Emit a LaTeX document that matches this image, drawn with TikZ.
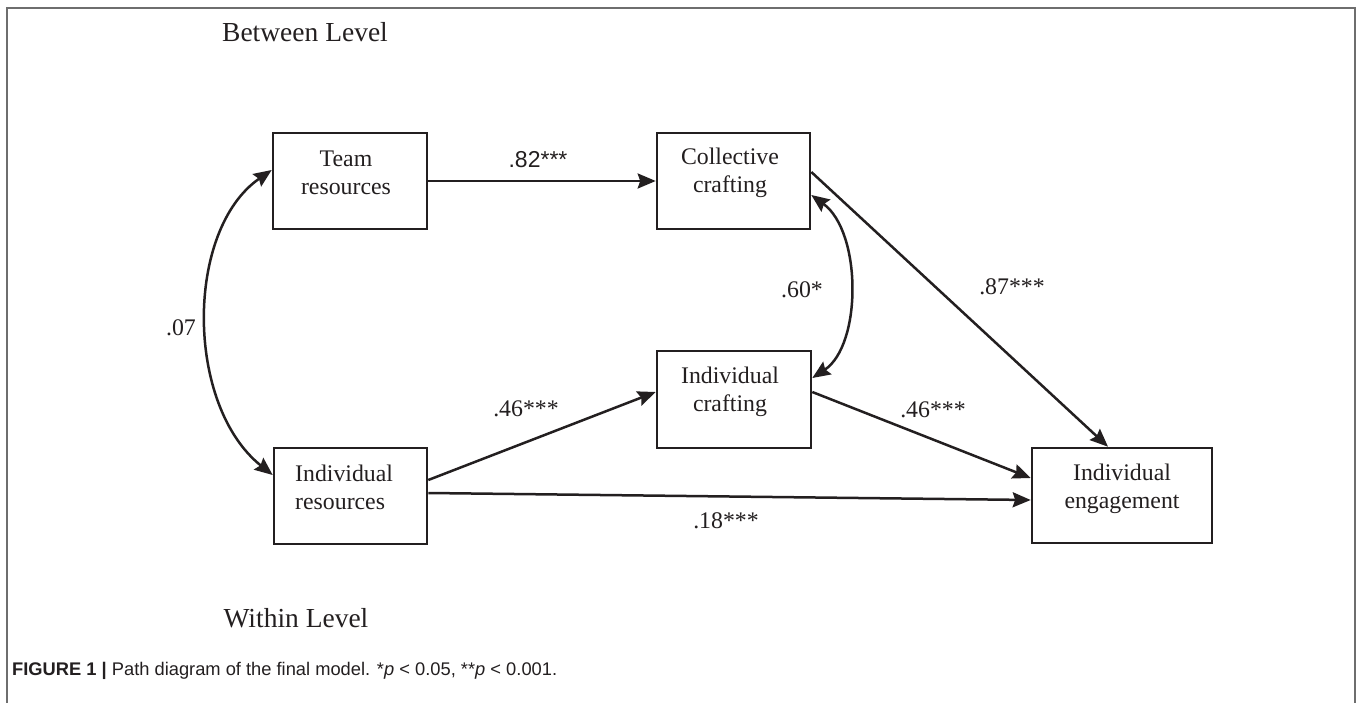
\documentclass[tikz,border=0pt]{standalone}
\usepackage{fontspec}
\setmainfont{Liberation Serif}
\newfontfamily\capfont{Liberation Sans}
\usetikzlibrary{arrows.meta,calc}
\definecolor{ink}{HTML}{231F20}
\definecolor{framegray}{HTML}{6E6E6E}
\begin{document}
\begin{tikzpicture}[x=1pt,y=-1pt,
  box/.style={draw=ink, line width=2.6pt, inner sep=0pt},
  boxtext/.style={text=ink, font=\fontsize{23.8}{28}\selectfont, align=center, inner sep=0pt},
  lvl/.style={text=ink, font=\fontsize{27.5}{30}\selectfont, inner sep=0pt},
  lab/.style={text=ink, font=\fontsize{23.8}{28}\selectfont, inner sep=0pt},
  tip/.style={Stealth[length=18pt,width=15pt,inset=2.5pt]},
  arr/.style={draw=ink, line width=2.5pt, -{Stealth[length=18pt,width=15pt,inset=2.5pt]}},
  darr/.style={draw=ink, line width=2.5pt, {Stealth[length=18pt,width=15pt,inset=2.5pt]}-{Stealth[length=18pt,width=15pt,inset=2.5pt]}},
]
\useasboundingbox (0,0) rectangle (1360,703);
\fill[white] (0,0) rectangle (1360,703);
% frame
\draw[framegray, line width=2pt] (7,703) -- (7,8) -- (1355,8) -- (1355,703);

% level labels
\node[lvl] (between) at (305,32) {Between Level};
\node[lvl] (within) at (296,618) {Within Level};

% boxes
\node[box, minimum width=154, minimum height=96] (tr) at (350,181) {};
\node[box, minimum width=153, minimum height=96] (cc) at (733.5,181) {};
\node[box, minimum width=153, minimum height=96] (ir) at (350.5,496) {};
\node[box, minimum width=154, minimum height=97] (ic) at (734,399.5) {};
\node[box, minimum width=180, minimum height=95] (ie) at (1122,495.5) {};

% box texts
\node[boxtext] (trt) at (346,173) {Team\\resources};
\node[boxtext] (cct) at (730,173) {Collective\\crafting};
\node[boxtext] (ict) at (730,391.5) {Individual\\crafting};
\node[boxtext, align=left, anchor=west] (irt) at (295,487) {Individual\\resources};
\node[boxtext] (iet) at (1122,489) {Individual\\engagement};

% straight paths
\draw[arr] (tr.east) -- (cc.west);
\draw[arr] ([yshift=9pt]cc.east) -- ([xshift=-14pt]ie.north);
\draw[arr] ([yshift=7.5pt]ic.east) -- ([yshift=17.5pt]ie.west);
\draw[arr] ([yshift=3pt]ir.east) -- ([yshift=-4.5pt]ie.west);
\draw[arr] ([yshift=16pt]ir.east) -- ([yshift=7.5pt]ic.west);

% covariances
\draw[darr] ([yshift=11pt]tr.west) .. controls (185,230) and (185,405) .. ([yshift=21pt]ir.west);
\draw[darr] ([yshift=-14pt]cc.east) .. controls (862,232) and (862,345) .. ([yshift=21.5pt]ic.east);

% coefficient labels
\node[lab, font=\capfont\fontsize{23}{28}\selectfont] (l82) at (538,160) {.82***};
\node[lab] (l87) at (1012,287) {.87***};
\node[lab] (l60) at (802,290) {.60*};
\node[lab] (l07) at (181,328) {.07};
\node[lab] (l46a) at (526,409) {.46***};
\node[lab] (l46b) at (933,410) {.46***};
\node[lab] (l18) at (726,521) {.18***};

% caption
\node[anchor=west, text=ink, inner sep=0pt, font=\capfont\fontsize{18.3}{20}\selectfont] (cap) at (12,671)
  {\textbf{FIGURE 1} \textbf{|} Path diagram of the final model. *\textit{p} < 0.05, **\textit{p} < 0.001.};
\end{tikzpicture}
\end{document}
